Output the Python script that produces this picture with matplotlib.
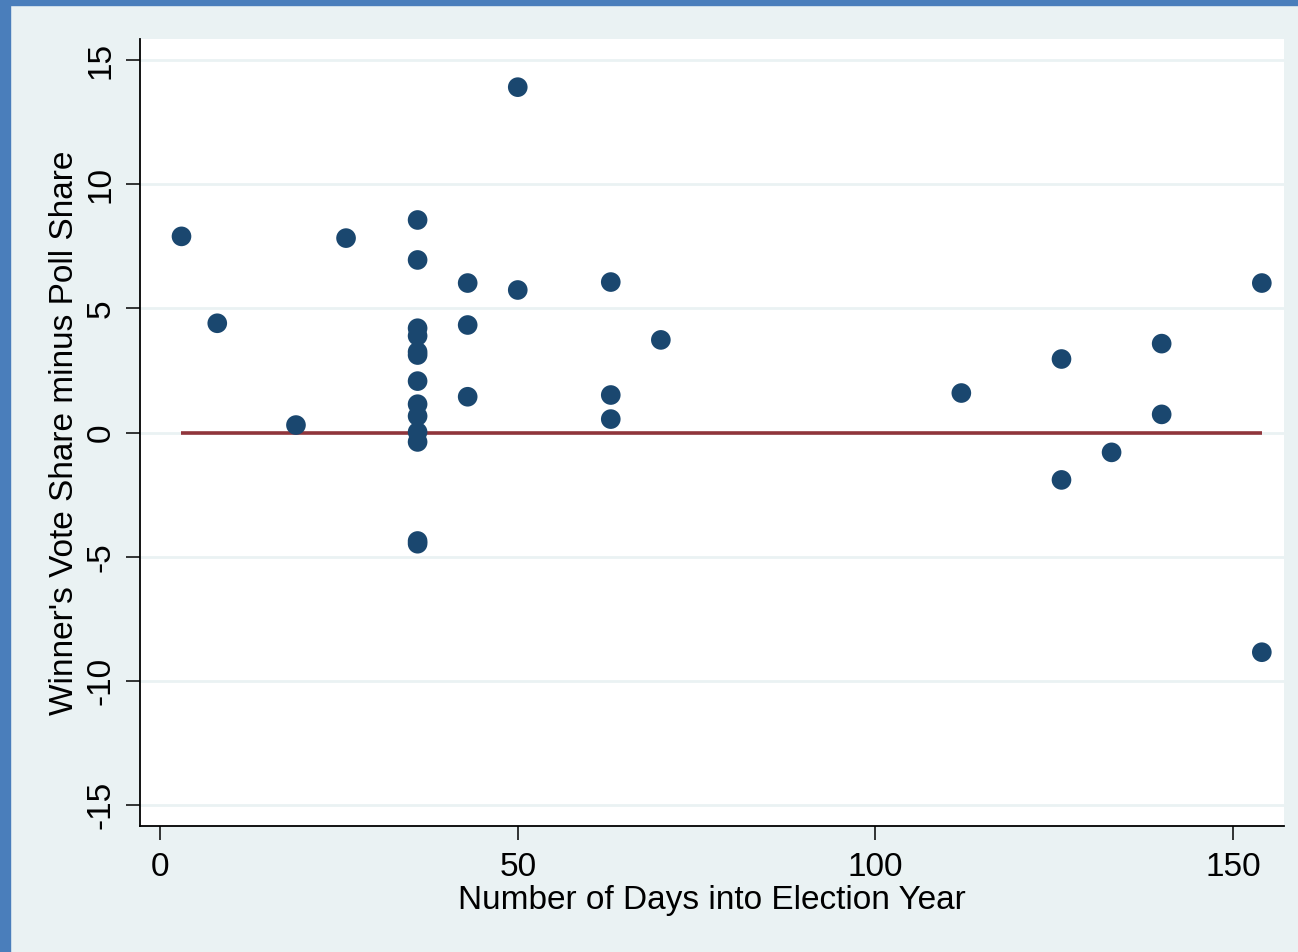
import matplotlib
matplotlib.use("Agg")
import matplotlib.pyplot as plt
from matplotlib.patches import Rectangle

plt.rcParams['font.family'] = ['Liberation Sans', 'DejaVu Sans']

# Data
days = [3, 8, 19, 26, 36, 36, 36, 36, 36, 36, 36, 36, 36, 36, 36, 36, 36,
        43, 43, 43, 50, 50, 63, 63, 63, 70, 112, 126, 126, 133, 140, 140, 154, 154]
diff = [7.9, 4.4, 0.3, 7.83, 8.56, 6.95, 4.2, 3.89, 3.25, 3.12, 2.07, 1.14, 0.66, 0.02, -0.38, -4.37, -4.48,
        6.02, 4.33, 1.44, 13.91, 5.74, 6.06, 1.51, 0.54, 3.73, 1.59, 2.96, -1.91, -0.80, 3.58, 0.73, 6.02, -8.85]
fit_x = [3, 154]
fit_y = [0, 0]
xticks = [0, 50, 100, 150]
yticks = [-15, -10, -5, 0, 5, 10, 15]

BG = '#EAF2F3'
fig = plt.figure(figsize=(12.98, 9.52), dpi=100, facecolor=BG)
# blue frame on left and top
fig.patches.append(Rectangle((0, 0), 10/1298, 1, transform=fig.transFigure, color='#4A7EBB', zorder=0))
fig.patches.append(Rectangle((0, 1 - 5/952), 1, 5/952, transform=fig.transFigure, color='#4A7EBB', zorder=0))

ax = fig.add_axes([140/1298, 1 - 826/952, 1144/1298, 787/952])
ax.set_facecolor('white')
ax.set_xlim(-2.8, 157.1)
ax.set_ylim(-15.85, 15.85)

for y in yticks:
    ax.axhline(y, color=BG, lw=2.0, zorder=1)

ax.plot(fit_x, fit_y, color='#90353B', lw=2.6, zorder=2, solid_capstyle='butt')
ax.scatter(days, diff, s=200, color='#1A476F', edgecolors='none', zorder=3)

for s in ['top', 'right']:
    ax.spines[s].set_visible(False)
for s in ['left', 'bottom']:
    ax.spines[s].set_linewidth(1.3)
    ax.spines[s].set_color('black')

ax.set_xticks(xticks)
ax.set_yticks(yticks)
ax.tick_params(axis='both', direction='out', length=10, width=1.1, labelsize=24)
ax.tick_params(axis='x', pad=9)
ax.tick_params(axis='y', pad=7)
ax.set_yticklabels([str(v) for v in yticks], rotation=90, va='center')

ax.set_xlabel('Number of Days into Election Year', fontsize=24, labelpad=1)
ax.set_ylabel("Winner's Vote Share minus Poll Share", fontsize=24, labelpad=4)

fig.savefig('out.png', dpi=100, facecolor=BG)
